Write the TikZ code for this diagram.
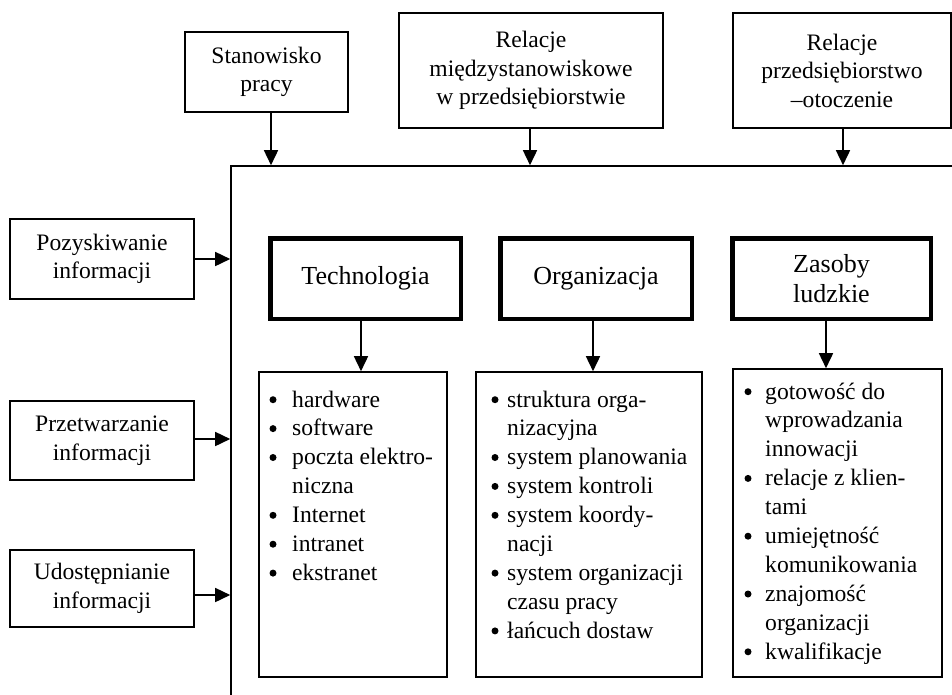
\documentclass[tikz,border=0pt]{standalone}
\usepackage{fontspec}
\setmainfont{Liberation Serif}
\usetikzlibrary{arrows.meta}
\begin{document}
\begin{tikzpicture}[x=1pt,y=-1pt,
  plainbox/.style={draw, line width=1.6pt, inner sep=0pt, align=center, font=\fontsize{23.6}{28.5}\selectfont},
  thickbox/.style={draw, line width=4.5pt, inner sep=0pt, align=center, font=\fontsize{26}{30}\selectfont},
  listbox/.style={draw, line width=1.6pt, inner sep=0pt},
  listtext/.style={anchor=base west, inner sep=0pt, font=\fontsize{23.6}{28.9}\selectfont},
  arr/.style={line width=1.6pt, -{Triangle[width=14pt,length=15pt]}}]
\useasboundingbox (0,0) rectangle (952,694);
\clip (0,0) rectangle (952,694);
\fill[white] (0,0) rectangle (952,694);
% top boxes
\node[plainbox, minimum width=163pt, minimum height=80pt] (stan) at (266.5,72) {Stanowisko\\pracy};
\node[plainbox, minimum width=264pt, minimum height=115pt] (rel1) at (531,70.5) {Relacje\\międzystanowiskowe\\w przedsiębiorstwie};
\node[plainbox, minimum width=218pt, minimum height=115pt] (rel2) at (842,70.5) {Relacje\\przedsiębiorstwo\\–otoczenie};
% frame
\node[draw, line width=1.6pt, minimum width=769pt, minimum height=584pt, inner sep=0pt] (frame) at (615.5,458) {};
% left boxes
\node[plainbox, minimum width=184pt, minimum height=80pt] (poz) at (102,259) {Pozyskiwanie\\informacji};
\node[plainbox, minimum width=184pt, minimum height=79pt] (prz) at (102,440.5) {Przetwarzanie\\informacji};
\node[plainbox, minimum width=184pt, minimum height=77pt] (udo) at (102,588.5) {Udostępnianie\\informacji};
% thick boxes
\node[thickbox, minimum width=190.5pt, minimum height=80.5pt] (tech) at (365.5,278.5) {Technologia};
\node[thickbox, minimum width=191.5pt, minimum height=80.5pt] (org) at (596,278.5) {Organizacja};
\node[thickbox, minimum width=198.5pt, minimum height=80.5pt] (zas) at (831.5,278.5) {Zasoby\\ludzkie};
% list boxes
\node[listbox, minimum width=188pt, minimum height=305pt] (ltech) at (353,524.5) {};
\node[listbox, minimum width=226pt, minimum height=305pt] (lorg) at (589,524.5) {};
\node[listbox, minimum width=209pt, minimum height=308pt] (lzas) at (837.5,523) {};
% list texts
\node[listtext] (ttech) at (292,407) {\begin{tabular}[t]{@{}l@{}}
hardware\\
software\\
poczta elektro-\\
niczna\\
Internet\\
intranet\\
ekstranet
\end{tabular}};
\node[listtext] (torg) at (507,407) {\begin{tabular}[t]{@{}l@{}}
struktura orga-\\
nizacyjna\\
system planowania\\
system kontroli\\
system koordy-\\
nacji\\
system organizacji\\
czasu pracy\\
łańcuch dostaw
\end{tabular}};
\node[listtext] (tzas) at (765,399) {\begin{tabular}[t]{@{}l@{}}
gotowość do\\
wprowadzania\\
innowacji\\
relacje z klien-\\
tami\\
umiejętność\\
komunikowania\\
znajomość\\
organizacji\\
kwalifikacje
\end{tabular}};
% bullets
\foreach \k in {0,1,2,4,5,6} \fill (273,{407+28.9*\k-7.3}) circle (3.5pt);
\foreach \k in {0,2,3,4,6,8} \fill (495,{407+28.9*\k-7.3}) circle (3.5pt);
\foreach \k in {0,3,5,7,9} \fill (748,{399+28.9*\k-7.3}) circle (3.5pt);
% arrows
\draw[arr] (stan.south -| 271,0) -- (271,0 |- frame.north);
\draw[arr] (rel1.south -| 530,0) -- (530,0 |- frame.north);
\draw[arr] (rel2.south -| 843,0) -- (843,0 |- frame.north);
\draw[arr] (poz.east) -- (poz.east -| frame.west);
\draw[arr] (prz.east |- 0,439) -- (frame.west |- 0,439);
\draw[arr] (udo.east |- 0,595) -- (frame.west |- 0,595);
\draw[arr] (361,0 |- tech.south) -- (361,0 |- ltech.north);
\draw[arr] (593,0 |- org.south) -- (593,0 |- lorg.north);
\draw[arr] (826,0 |- zas.south) -- (826,0 |- lzas.north);
\end{tikzpicture}
\end{document}
